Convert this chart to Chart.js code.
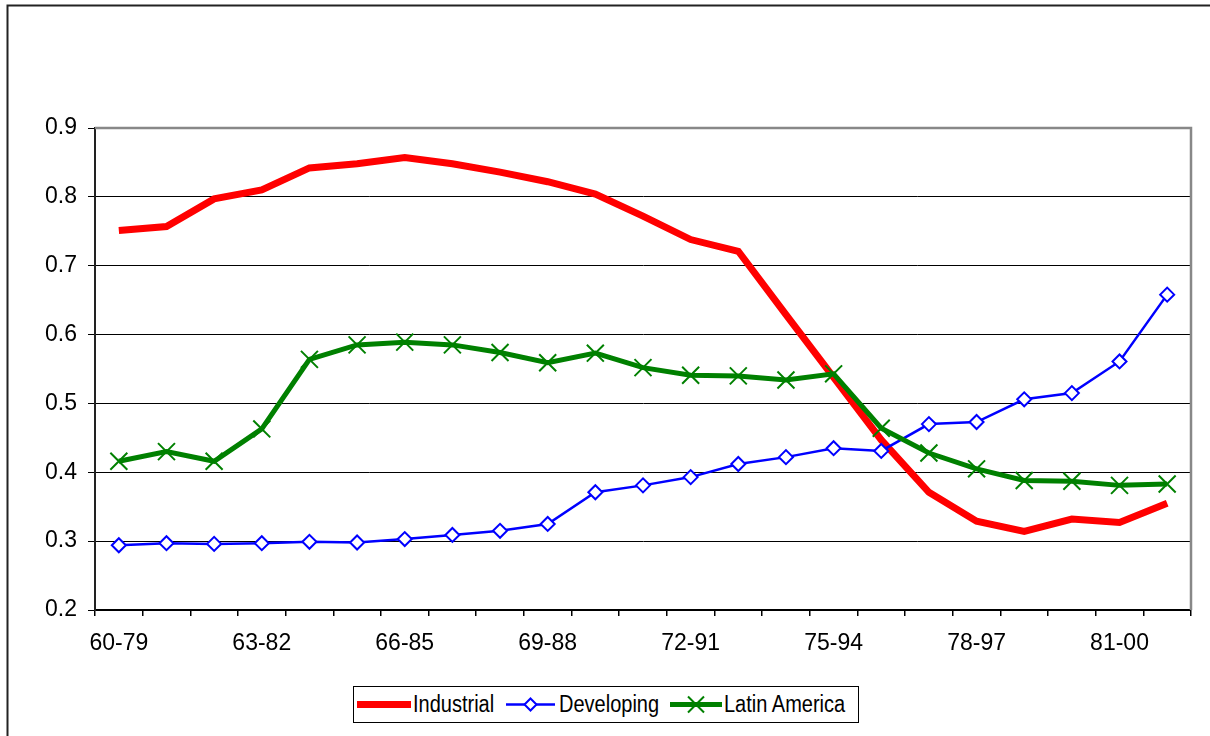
<!DOCTYPE html>
<html>
<head>
<meta charset="utf-8">
<script src="https://cdn.jsdelivr.net/npm/chart.js@4.4.1/dist/chart.umd.min.js"></script>
<style>
  html, body { margin: 0; padding: 0; background: #fff; }
  #wrap { position: relative; width: 1210px; height: 736px; overflow: hidden; }
  #c { position: absolute; left: 0; top: 0; }
  #legend { position: absolute; left: 353px; top: 686px; width: 504px; height: 35px;
            border: 1px solid #000; background: #fff; font-family: "Liberation Sans", Arial, sans-serif; }
  #legend .txt { position: absolute; top: 4px; font-size: 20px; line-height: 26px; color: #000;
                 white-space: nowrap; transform: scaleY(1.15); transform-origin: 0 50%; }
  #legend svg { position: absolute; top: 0; }
</style>
</head>
<body>
<div id="wrap">
  <canvas id="c" width="1210" height="736"></canvas>
  <div id="legend"></div>
</div>
<script>
const categories = ['60-79','61-80','62-81','63-82','64-83','65-84','66-85','67-86','68-87','69-88','70-89','71-90',
                    '72-91','73-92','74-93','75-94','76-95','77-96','78-97','79-98','80-99','81-00','82-01'];
const tickLabels = ['60-79','63-82','66-85','69-88','72-91','75-94','78-97','81-00'];
const yTicks = [0.2, 0.3, 0.4, 0.5, 0.6, 0.7, 0.8, 0.9];

const industrial = [0.751,0.757,0.797,0.810,0.842,0.848,0.857,0.848,0.836,0.822,0.804,0.772,
                    0.738,0.721,0.629,0.538,0.447,0.371,0.329,0.314,0.332,0.327,0.355];
const developing = [0.294,0.297,0.296,0.297,0.299,0.298,0.303,0.309,0.315,0.325,0.371,0.381,
                    0.393,0.412,0.422,0.435,0.431,0.470,0.473,0.506,0.515,0.561,0.658];
const latinAmerica = [0.416,0.430,0.416,0.463,0.564,0.585,0.589,0.585,0.574,0.559,0.573,0.552,
                      0.541,0.540,0.534,0.543,0.464,0.428,0.405,0.388,0.387,0.381,0.383];

const seriesNames = ['Industrial', 'Developing', 'Latin America'];
const FONT = '"Liberation Sans", Arial, sans-serif';

const framePlugin = {
  id: 'frame',
  beforeDraw(chart) {
    const ctx = chart.ctx;
    ctx.save();
    ctx.fillStyle = '#fff';
    ctx.fillRect(0, 0, chart.width, chart.height);
    ctx.strokeStyle = '#222';
    ctx.lineWidth = 2;
    ctx.beginPath();
    ctx.moveTo(7.5, chart.height + 5);
    ctx.lineTo(7.5, 5.5);
    ctx.lineTo(chart.width + 5, 5.5);
    ctx.stroke();
    ctx.restore();
  },
  afterDatasetsDraw(chart) {
    const a = chart.chartArea, ctx = chart.ctx;
    ctx.save();
    ctx.strokeStyle = '#888';
    ctx.lineWidth = 2.5;
    ctx.beginPath();
    ctx.moveTo(a.left, a.top);
    ctx.lineTo(a.right, a.top);
    ctx.lineTo(a.right, a.bottom);
    ctx.stroke();
    ctx.restore();
  }
};

new Chart(document.getElementById('c'), {
  type: 'line',
  data: {
    labels: categories,
    datasets: [
      { label: seriesNames[0], data: industrial, borderColor: '#ff0000', backgroundColor: '#ff0000',
        borderWidth: 7, pointRadius: 0, tension: 0, order: 3 },
      { label: seriesNames[1], data: developing, borderColor: '#0000ff', backgroundColor: '#ffffff',
        borderWidth: 2.5, pointStyle: 'rectRot', pointRadius: 7, pointBorderWidth: 2,
        pointBorderColor: '#0000ff', pointBackgroundColor: '#ffffff', tension: 0, order: 2 },
      { label: seriesNames[2], data: latinAmerica, borderColor: '#008000', backgroundColor: '#008000',
        borderWidth: 5, pointStyle: 'crossRot', pointRadius: 12, pointBorderWidth: 2,
        pointBorderColor: '#008000', tension: 0, order: 1 }
    ]
  },
  options: {
    responsive: false,
    animation: false,
    layout: { padding: { left: 0, top: 128, right: 19, bottom: 76 } },
    plugins: { legend: { display: false }, tooltip: { enabled: false } },
    scales: {
      x: {
        type: 'category',
        offset: true,
        grid: { offset: true, drawOnChartArea: false, drawTicks: true, tickLength: 6,
                color: '#000', lineWidth: 1.5 },
        border: { color: '#000', width: 2 },
        ticks: {
          autoSkip: false, maxRotation: 0, padding: 14, color: '#000',
          font: { family: FONT, size: 23 },
          callback: function(v, i) { const l = this.getLabelForValue(v); return tickLabels.includes(l) ? l : ''; }
        },
        afterFit(scale) { scale.height = 50; }
      },
      y: {
        min: 0.2, max: 0.9,
        afterBuildTicks(scale) { scale.ticks = yTicks.map(v => ({ value: v })); },
        grid: { color: (c) => (c.tick && c.tick.value >= 0.9 ? '#888' : '#000'), lineWidth: 1,
                tickColor: '#000', drawTicks: true, tickLength: 7 },
        border: { color: '#222', width: 2 },
        ticks: { padding: 11, color: '#000', font: { family: FONT, size: 23 },
                 callback: (v) => Number(v).toFixed(1) },
        afterFit(scale) { scale.width = 95; }
      }
    }
  },
  plugins: [framePlugin]
});

// HTML legend (text stays real text)
const legend = document.getElementById('legend');
const legendItems = [
  { name: seriesNames[0], x: 3, lineW: 54, color: '#ff0000', width: 7, marker: 'none', tx: 59 },
  { name: seriesNames[1], x: 152, lineW: 49, color: '#0000ff', width: 2.5, marker: 'diamond', tx: 205 },
  { name: seriesNames[2], x: 316, lineW: 52, color: '#008000', width: 5, marker: 'cross', tx: 370 }
];
legendItems.forEach(it => {
  const svgNS = 'http://www.w3.org/2000/svg';
  const svg = document.createElementNS(svgNS, 'svg');
  svg.setAttribute('width', it.lineW); svg.setAttribute('height', 35);
  svg.style.left = it.x + 'px';
  const ln = document.createElementNS(svgNS, 'line');
  ln.setAttribute('x1', 0); ln.setAttribute('x2', it.lineW);
  ln.setAttribute('y1', 17.5); ln.setAttribute('y2', 17.5);
  ln.setAttribute('stroke', it.color); ln.setAttribute('stroke-width', it.width);
  svg.appendChild(ln);
  const cx = it.lineW / 2, cy = 17.5;
  if (it.marker === 'diamond') {
    const p = document.createElementNS(svgNS, 'polygon');
    const r = 6;
    p.setAttribute('points', `${cx},${cy-r} ${cx+r},${cy} ${cx},${cy+r} ${cx-r},${cy}`);
    p.setAttribute('fill', '#fff'); p.setAttribute('stroke', it.color); p.setAttribute('stroke-width', 2);
    svg.appendChild(p);
  } else if (it.marker === 'cross') {
    const r = 8;
    [[-r,-r,r,r],[-r,r,r,-r]].forEach(d => {
      const l = document.createElementNS(svgNS, 'line');
      l.setAttribute('x1', cx+d[0]); l.setAttribute('y1', cy+d[1]);
      l.setAttribute('x2', cx+d[2]); l.setAttribute('y2', cy+d[3]);
      l.setAttribute('stroke', it.color); l.setAttribute('stroke-width', 2);
      svg.appendChild(l);
    });
  }
  legend.appendChild(svg);
  const t = document.createElement('div');
  t.className = 'txt';
  t.style.left = it.tx + 'px';
  t.textContent = it.name;
  legend.appendChild(t);
});
</script>
</body>
</html>
